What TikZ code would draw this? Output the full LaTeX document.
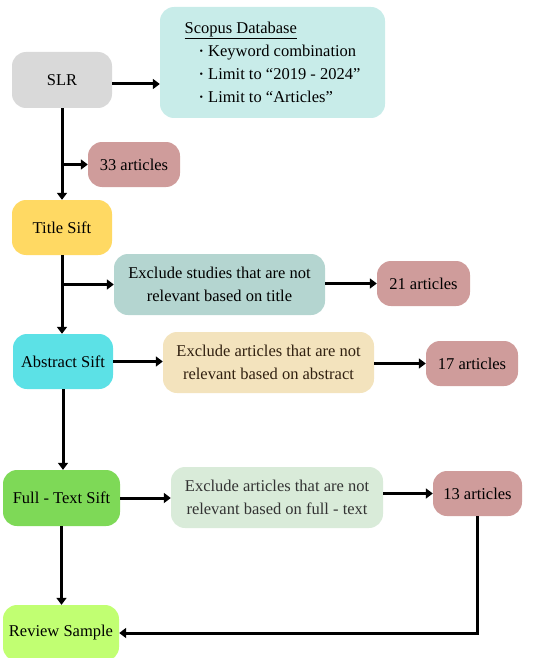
\documentclass[tikz,border=0pt]{standalone}
\usepackage{fontspec}
\setmainfont{Liberation Serif}
\usetikzlibrary{arrows.meta}
\definecolor{cgray}{HTML}{D9D9D9}
\definecolor{cscop}{HTML}{C8ECE9}
\definecolor{crose}{HTML}{CF9C9B}
\definecolor{cyel}{HTML}{FFD963}
\definecolor{cteal}{HTML}{B4D5D0}
\definecolor{ccyan}{HTML}{5CE1E6}
\definecolor{cbeige}{HTML}{F3E3BD}
\definecolor{cgreen}{HTML}{7ED957}
\definecolor{cpale}{HTML}{D9EBD9}
\definecolor{clime}{HTML}{C1FF72}
\tikzset{
  box/.style={rounded corners=14pt, inner sep=0pt, align=center,
    font=\fontsize{16.5}{23}\selectfont},
  arr/.style={line width=3pt, -{Triangle[length=7pt,width=10pt]}}
}
\newcommand{\mybul}{\raisebox{2pt}{\fontsize{10}{10}\selectfont\textbullet}\hspace{5pt}}
\begin{document}
\begin{tikzpicture}[x=1pt,y=-1pt]
\useasboundingbox (0,0) rectangle (555,658);
\clip (0,0) rectangle (555,658);
\node[box, fill=cgray, minimum width=100pt, minimum height=56pt] (slr) at (62,80) {SLR};
\node[box, fill=cscop, minimum width=225pt, minimum height=111pt, align=left] (scop) at (272.5,62.5)
  {\underline{Scopus Database}\\
   \hspace*{15pt}\mybul Keyword combination\\
   \hspace*{15pt}\mybul Limit to “2019 - 2024”\\
   \hspace*{15pt}\mybul Limit to “Articles”};
\node[box, fill=crose, minimum width=92pt, minimum height=45pt] (a33) at (134,164.5) {33 articles};
\node[box, fill=cyel, minimum width=100pt, minimum height=55pt] (title) at (62,227.5) {Title Sift};
\node[box, fill=cteal, minimum width=211pt, minimum height=61pt] (extitle) at (219.5,284.5)
  {Exclude studies that are not\\relevant based on title};
\node[box, fill=crose, minimum width=93pt, minimum height=45pt] (a21) at (423.5,283.5) {21 articles};
\node[box, fill=ccyan, minimum width=100pt, minimum height=55pt] (abs) at (63,361.5) {Abstract Sift};
\node[box, fill=cbeige, minimum width=211pt, minimum height=61pt, text=black!75!brown] (exabs) at (268.5,362.5)
  {Exclude articles that are not\\relevant based on abstract};
\node[box, fill=crose, minimum width=92pt, minimum height=45pt] (a17) at (472,363.5) {17 articles};
\node[box, fill=cgreen, minimum width=117pt, minimum height=56pt] (ft) at (61.5,498) {Full - Text Sift};
\node[box, fill=cpale, minimum width=212pt, minimum height=61pt, text=black!80] (exft) at (277,497.5)
  {Exclude articles that are not\\relevant based on full - text};
\node[box, fill=crose, minimum width=89pt, minimum height=45pt] (a13) at (477.5,493.5) {13 articles};
\node[box, fill=clime, minimum width=116pt, minimum height=56pt] (rev) at (61,633) {Review Sample};

\draw[arr] (slr.east |- 0,84) -- (scop.west |- 0,84);
\draw[arr] (slr.south) -- (title.north);
\draw[arr] (slr.south |- a33.west) -- (a33.west);
\draw[arr] (title.south) -- (title.south |- abs.north);
\draw[arr] (title.south |- extitle.west) -- (extitle.west);
\draw[arr] (extitle.east |- a21.west) -- (a21.west);
\draw[arr] (abs.east) -- (abs.east -| exabs.west);
\draw[arr] (exabs.east |- a17.west) -- (a17.west);
\draw[arr] (abs.south) -- (abs.south |- ft.north);
\draw[arr] (ft.east) -- (ft.east -| exft.west);
\draw[arr] (exft.east |- a13.west) -- (a13.west);
\draw[arr] (ft.south) -- (ft.south |- rev.north);
\draw[arr] (a13.south) |- (rev.east);
\end{tikzpicture}
\end{document}
